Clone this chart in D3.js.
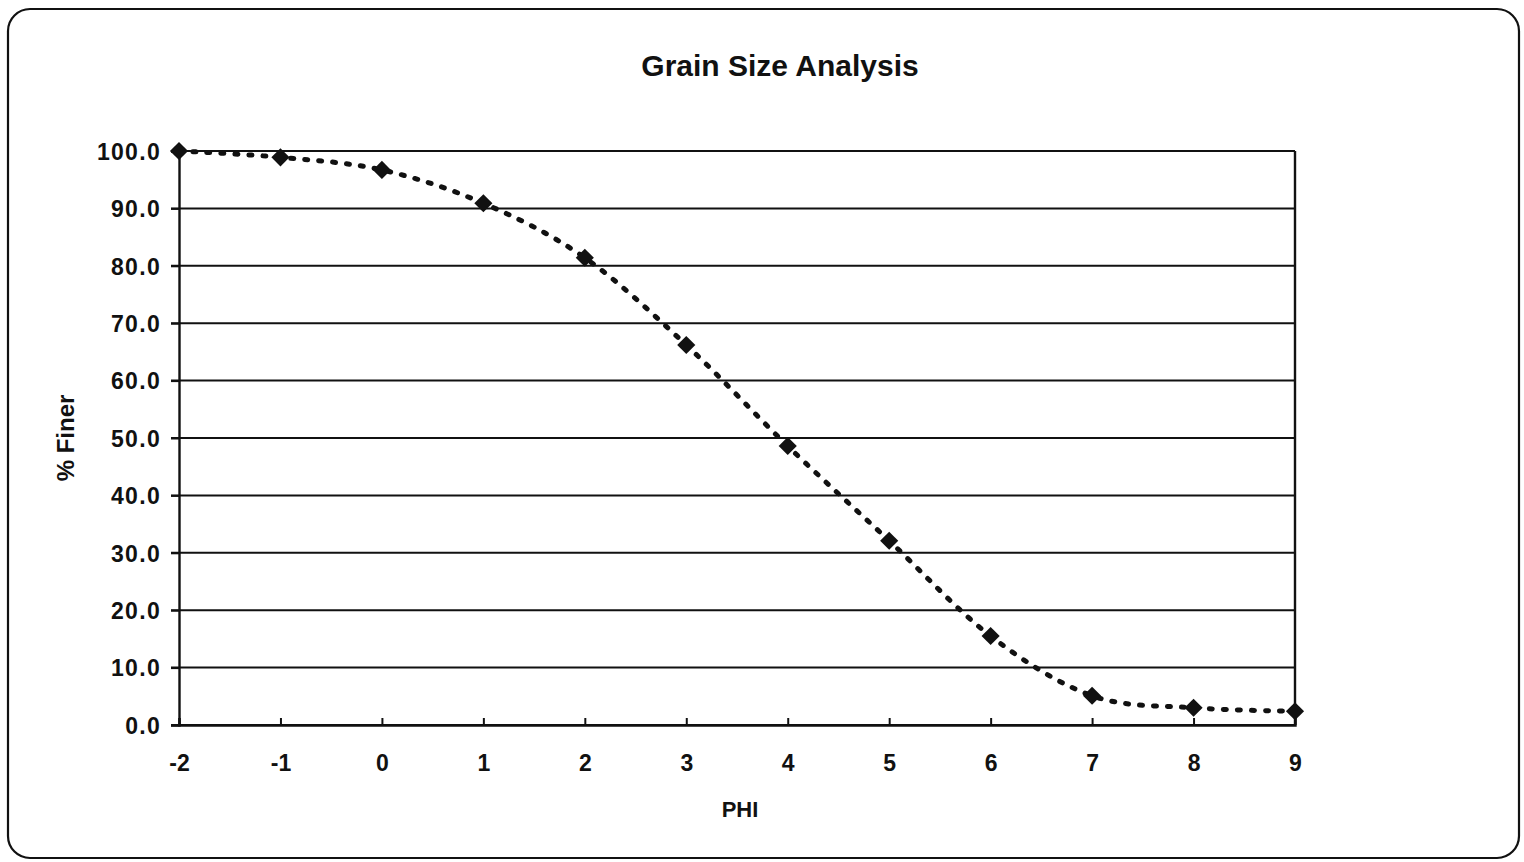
<!DOCTYPE html>
<html><head><meta charset="utf-8">
<script src="https://cdn.jsdelivr.net/npm/d3@7"></script>
<style>
html,body{margin:0;padding:0;background:#fff;}
svg{display:block;}
text{font-family:"Liberation Sans",Arial,sans-serif;font-weight:bold;fill:#111;}
</style></head>
<body>
<svg id="chart" width="1524" height="862"></svg>
<script>
const phi = [-2, -1, 0, 1, 2, 3, 4, 5, 6, 7, 8, 9];
const percentFiner = [100.0, 98.9, 96.7, 90.9, 81.4, 66.2, 48.6, 32.1, 15.5, 5.1, 3.0, 2.4];
const yTicks = [0, 10, 20, 30, 40, 50, 60, 70, 80, 90, 100];
const xTicks = [-2, -1, 0, 1, 2, 3, 4, 5, 6, 7, 8, 9];
const title = "Grain Size Analysis";
const xLabel = "PHI";
const yLabel = "% Finer";

const svg = d3.select("#chart");
const plotLeft = 179, plotRight = 1295, plotTop = 151, plotBottom = 725;

// outer frame
svg.append("rect").attr("x", 8).attr("y", 9).attr("width", 1511).attr("height", 849)
  .attr("rx", 22).attr("ry", 22).attr("fill", "#fff").attr("stroke", "#111").attr("stroke-width", 2.2);

const x = d3.scaleLinear().domain([-2, 9]).range([plotLeft, plotRight]);
const y = d3.scaleLinear().domain([0, 100]).range([plotBottom, plotTop]);

// gridlines
svg.append("g").selectAll("line").data(yTicks).join("line")
  .attr("x1", plotLeft - 8).attr("x2", plotRight)
  .attr("y1", d => y(d)).attr("y2", d => y(d))
  .attr("stroke", "#111").attr("stroke-width", 2);

// y axis
const yAxis = svg.append("g").attr("transform", `translate(${plotLeft},0)`)
  .call(d3.axisLeft(y).tickValues(yTicks).tickFormat(d3.format(".1f")).tickSize(8).tickPadding(10));
yAxis.select(".domain").attr("stroke", "#111").attr("stroke-width", 2.4);
yAxis.selectAll(".tick line").attr("stroke", "#111").attr("stroke-width", 2);
yAxis.selectAll("text").style("font-size", "23px").style("letter-spacing", "1.3px").style("font-family", "\"Liberation Sans\",Arial,sans-serif")
  .style("font-weight", "bold").attr("fill", "#111").attr("dy", "0.36em");

// x axis
const xAxis = svg.append("g").attr("transform", `translate(0,${plotBottom})`)
  .call(d3.axisBottom(x).tickValues(xTicks).tickFormat(d3.format("d")).tickSize(-7).tickPadding(30));
xAxis.select(".domain").attr("stroke", "#111").attr("stroke-width", 2.4);
xAxis.selectAll(".tick line").attr("stroke", "#111").attr("stroke-width", 2);
xAxis.selectAll("text").style("font-size", "23px").style("font-family", "\"Liberation Sans\",Arial,sans-serif")
  .style("font-weight", "bold").attr("fill", "#111").text(d => d < 0 ? "-" + Math.abs(d) : d);

// right border
svg.append("line").attr("x1", plotRight).attr("x2", plotRight).attr("y1", plotTop).attr("y2", plotBottom)
  .attr("stroke", "#111").attr("stroke-width", 2.4);

// smoothed dotted line
const data = phi.map((p, i) => ({p, v: percentFiner[i]}));
const line = d3.line().x(d => x(d.p)).y(d => y(d.v)).curve(d3.curveCatmullRom.alpha(0));
svg.append("path").datum(data).attr("d", line).attr("fill", "none")
  .attr("stroke", "#111").attr("stroke-width", 5).attr("stroke-dasharray", "3 11").attr("stroke-linecap", "round");

// markers
svg.append("g").selectAll("path").data(data).join("path")
  .attr("transform", d => `translate(${x(d.p)},${y(d.v)})`)
  .attr("d", d3.symbol().type(d3.symbolDiamond2).size(210))
  .attr("fill", "#111");

// title & labels
svg.append("text").attr("x", 780).attr("y", 76).attr("text-anchor", "middle")
  .style("font-size", "30px").text(title);
svg.append("text").attr("x", 740).attr("y", 817).attr("text-anchor", "middle")
  .style("font-size", "22px").text(xLabel);
svg.append("text").attr("transform", "translate(74,438) rotate(-90)").attr("text-anchor", "middle")
  .style("font-size", "24px").text(yLabel);
</script>
</body></html>
